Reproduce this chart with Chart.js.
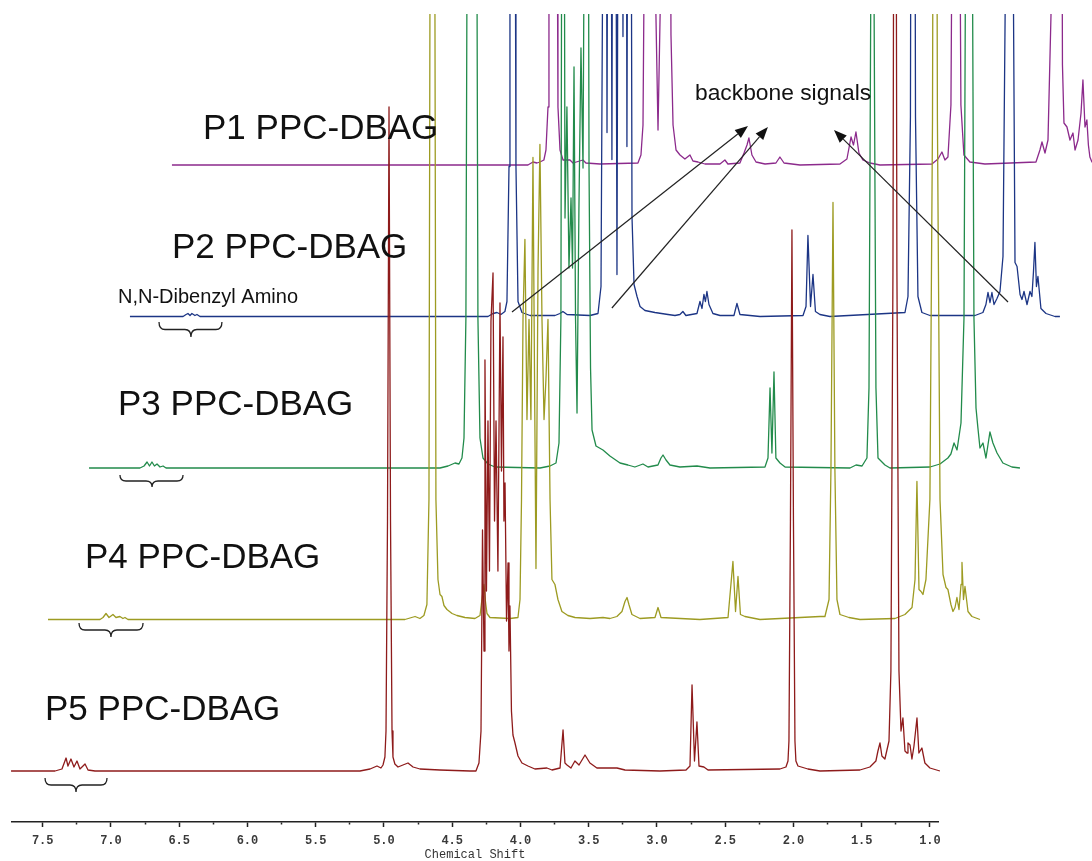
<!DOCTYPE html>
<html>
<head>
<meta charset="utf-8">
<script src="https://cdn.jsdelivr.net/npm/chart.js@4.4.1/dist/chart.umd.min.js"></script>
<style>
html,body{margin:0;padding:0;background:#ffffff;}
canvas{display:block;}
</style>
</head>
<body>
<canvas id="c" width="1092" height="861"></canvas>
<script>
// ---------------- DATA ----------------
// trace order: P5 (bottom) ... P1 (top); each point = [chemical shift (ppm), intensity]
const traceNames = ['P5 PPC-DBAG', 'P4 PPC-DBAG', 'P3 PPC-DBAG', 'P2 PPC-DBAG', 'P1 PPC-DBAG'];
const traceColors = ['#8e1b1b', '#9d9b22', '#228b4b', '#1c3585', '#8c2a8c'];

const p5 = [[7.732,0],[7.410,0],[7.359,2],[7.329,13],[7.315,5],[7.293,12],[7.271,4],[7.249,10],[7.227,2],[7.190,7],[7.168,1],[7.117,0],[5.176,0],[5.102,2],[5.051,5],[5.022,3],[5.007,6],[4.993,14],[4.985,40],[4.974,250],[4.963,664],[4.952,250],[4.941,40],[4.934,14],[4.920,7],[4.897,4],[4.861,6],[4.824,8],[4.787,4],[4.736,2],[4.590,1],[4.370,0],[4.326,0],[4.304,8],[4.289,40],[4.278,241],[4.267,120],[4.260,411],[4.249,180],[4.238,350],[4.227,200],[4.216,450],[4.201,498],[4.190,250],[4.179,350],[4.165,200],[4.150,468],[4.139,300],[4.128,434],[4.121,250],[4.113,288],[4.102,150],[4.091,208],[4.084,120],[4.077,165],[4.066,60],[4.055,36],[4.040,28],[4.018,15],[3.989,8],[3.945,5],[3.894,2],[3.806,3],[3.769,1],[3.710,3],[3.688,41],[3.674,8],[3.659,6],[3.630,3],[3.601,10],[3.571,6],[3.527,16],[3.491,8],[3.440,3],[3.293,3],[3.234,1],[2.978,0],[2.787,1],[2.758,5],[2.743,86],[2.725,10],[2.707,49],[2.692,5],[2.656,4],[2.626,1],[2.099,2],[2.055,4],[2.040,10],[2.033,30],[2.022,250],[2.011,541],[2.000,250],[1.989,30],[1.982,10],[1.967,5],[1.894,2],[1.806,0],[1.513,1],[1.440,4],[1.396,10],[1.381,20],[1.366,28],[1.352,15],[1.330,12],[1.300,30],[1.286,100],[1.271,500],[1.256,1500],[1.242,500],[1.227,100],[1.212,40],[1.198,53],[1.183,20],[1.168,18],[1.161,28],[1.146,26],[1.132,12],[1.117,25],[1.095,53],[1.081,18],[1.059,23],[1.037,8],[1.000,3],[0.927,0]];

const p4 = [[7.758,0],[7.377,0],[7.355,2],[7.333,6],[7.311,2],[7.282,5],[7.260,2],[7.231,3],[7.209,1],[7.194,2],[7.172,0],[5.143,0],[5.069,3],[5.033,1],[5.004,4],[4.982,15],[4.967,120],[4.960,600],[4.941,1500],[4.923,600],[4.916,120],[4.901,40],[4.886,25],[4.872,23],[4.857,14],[4.835,10],[4.798,6],[4.762,4],[4.703,2],[4.630,1],[4.593,4],[4.579,20],[4.564,35],[4.553,18],[4.542,6],[4.520,2],[4.373,1],[4.315,2],[4.300,20],[4.289,120],[4.278,300],[4.264,380],[4.249,200],[4.234,300],[4.220,200],[4.205,462],[4.194,250],[4.183,51],[4.168,350],[4.154,475],[4.139,300],[4.124,200],[4.110,240],[4.095,300],[4.080,120],[4.066,40],[4.044,35],[4.022,20],[3.993,8],[3.949,4],[3.897,2],[3.787,1],[3.692,2],[3.641,1],[3.590,3],[3.553,8],[3.531,18],[3.516,22],[3.502,15],[3.480,5],[3.421,1],[3.311,2],[3.289,12],[3.267,2],[2.982,0],[2.776,2],[2.740,58],[2.721,8],[2.703,43],[2.685,5],[2.652,3],[2.542,0],[2.102,3],[2.066,3],[2.036,20],[2.022,150],[2.007,417],[1.993,150],[1.978,20],[1.956,5],[1.890,2],[1.809,0],[1.553,1],[1.480,5],[1.428,12],[1.406,40],[1.392,138],[1.377,30],[1.362,28],[1.348,25],[1.326,40],[1.297,120],[1.278,500],[1.260,1500],[1.242,500],[1.223,120],[1.201,45],[1.179,32],[1.165,30],[1.143,15],[1.128,8],[1.113,12],[1.099,22],[1.084,10],[1.069,35],[1.062,57],[1.051,20],[1.040,33],[1.018,8],[0.989,3],[0.930,0]];

const p3 = [[7.754,0],[7.381,0],[7.351,2],[7.329,6],[7.311,2],[7.293,6],[7.275,2],[7.256,4],[7.234,1],[7.212,2],[7.190,0],[5.183,0],[5.124,2],[5.073,5],[5.044,4],[5.022,10],[5.007,30],[4.993,150],[4.985,500],[4.949,1500],[4.912,500],[4.905,150],[4.890,30],[4.868,10],[4.831,4],[4.780,1],[4.450,0],[4.377,2],[4.333,5],[4.311,25],[4.297,150],[4.282,1200],[4.267,250],[4.253,361],[4.238,200],[4.223,270],[4.212,200],[4.201,401],[4.190,150],[4.179,55],[4.165,260],[4.150,420],[4.135,300],[4.121,700],[4.106,1200],[4.091,300],[4.080,100],[4.069,38],[4.040,22],[3.989,18],[3.938,12],[3.864,5],[3.806,3],[3.755,1],[3.696,4],[3.659,1],[3.623,2],[3.586,3],[3.564,10],[3.549,13],[3.527,8],[3.498,3],[3.425,1],[3.300,2],[3.205,0],[2.802,1],[2.780,10],[2.765,80],[2.751,15],[2.736,96],[2.722,10],[2.692,5],[2.655,1],[2.179,0],[2.135,3],[2.091,2],[2.055,10],[2.040,80],[2.026,500],[2.015,1500],[2.004,500],[1.989,80],[1.974,10],[1.923,3],[1.886,0],[1.593,1],[1.520,4],[1.462,10],[1.440,14],[1.417,25],[1.395,18],[1.366,45],[1.344,150],[1.330,600],[1.308,1500],[1.285,600],[1.271,150],[1.256,60],[1.242,40],[1.227,20],[1.205,25],[1.183,10],[1.154,36],[1.132,25],[1.102,15],[1.059,5],[0.993,1],[0.934,0]];

const p2 = [[7.751,0],[7.362,0],[7.340,2],[7.326,3],[7.311,1],[7.297,3],[7.275,1],[7.260,2],[7.238,0],[5.128,0],[5.091,3],[5.062,4],[5.033,2],[5.004,5],[4.989,15],[4.974,150],[4.967,500],[4.949,1500],[4.930,500],[4.923,150],[4.908,15],[4.879,4],[4.820,1],[4.637,1],[4.601,3],[4.579,5],[4.549,2],[4.381,1],[4.322,3],[4.300,30],[4.286,400],[4.271,1200],[4.256,184],[4.238,1200],[4.220,157],[4.205,1200],[4.183,42],[4.161,1200],[4.139,280],[4.124,1200],[4.110,170],[4.091,1200],[4.073,100],[4.058,32],[4.036,20],[4.014,10],[3.978,6],[3.905,4],[3.809,2],[3.758,1],[3.722,2],[3.700,5],[3.678,1],[3.597,3],[3.575,15],[3.560,8],[3.546,22],[3.535,15],[3.524,25],[3.509,12],[3.480,3],[3.428,1],[3.326,1],[3.304,13],[3.282,2],[3.135,0],[2.820,1],[2.798,10],[2.784,81],[2.765,10],[2.747,42],[2.729,5],[2.696,2],[2.623,0],[2.073,4],[2.051,20],[2.033,200],[2.015,1500],[1.996,200],[1.978,20],[1.949,4],[1.890,1],[1.560,1],[1.502,4],[1.480,12],[1.465,24],[1.450,14],[1.436,24],[1.421,12],[1.399,18],[1.377,25],[1.355,60],[1.333,400],[1.308,1500],[1.282,400],[1.267,54],[1.252,50],[1.230,22],[1.216,17],[1.201,25],[1.179,12],[1.157,25],[1.143,20],[1.132,44],[1.121,74],[1.110,30],[1.099,40],[1.077,8],[1.040,3],[0.974,0],[0.938,0]];

const p1 = [[7.740,0],[5.132,0],[5.095,3],[5.066,2],[5.044,3],[5.015,5],[5.000,15],[4.985,58],[4.978,300],[4.949,1500],[4.919,300],[4.912,58],[4.897,15],[4.875,5],[4.824,5],[4.802,2],[4.729,5],[4.707,2],[4.604,1],[4.326,2],[4.304,10],[4.289,40],[4.275,300],[4.260,1200],[4.231,1200],[4.201,200],[4.179,35],[4.157,200],[4.128,1200],[4.099,600],[4.084,130],[4.069,40],[4.047,15],[4.018,10],[3.982,6],[3.945,10],[3.923,4],[3.886,3],[3.835,1],[3.725,1],[3.689,5],[3.667,1],[3.579,2],[3.549,12],[3.527,20],[3.513,27],[3.491,10],[3.461,3],[3.395,1],[3.315,2],[3.286,8],[3.256,2],[3.139,0],[2.846,1],[2.795,6],[2.765,28],[2.747,20],[2.729,33],[2.707,12],[2.678,5],[2.626,2],[2.553,0],[2.172,1],[2.128,6],[2.099,13],[2.077,5],[2.055,8],[2.033,60],[2.018,400],[1.996,1500],[1.974,400],[1.960,60],[1.938,10],[1.894,3],[1.784,1],[1.410,3],[1.381,15],[1.366,23],[1.344,12],[1.322,25],[1.300,150],[1.286,600],[1.256,1500],[1.227,600],[1.216,100],[1.205,42],[1.183,38],[1.161,25],[1.139,32],[1.124,15],[1.102,25],[1.080,52],[1.066,85],[1.051,38],[1.037,45],[1.026,20],[1.015,8],[1.000,3],[0.941,0]];

const traces = [p5, p4, p3, p2, p1];

const tickValues = [7.5,7.25,7.0,6.75,6.5,6.25,6.0,5.75,5.5,5.25,5.0,4.75,4.5,4.25,4.0,3.75,3.5,3.25,3.0,2.75,2.5,2.25,2.0,1.75,1.5,1.25,1.0];
const majorTicks = [7.5,7.0,6.5,6.0,5.5,5.0,4.5,4.0,3.5,3.0,2.5,2.0,1.5,1.0];
const axisTitle = 'Chemical Shift';

// annotations expressed in the bottom trace's (P5) axis units: [ppm, intensity]
const arrowStarts = [[4.062,459],[3.330,463],[0.428,469]];
const arrowEnds   = [[2.333,645],[2.187,644],[1.703,641]];
// braces: [left ppm, right ppm, tip ppm, top intensity, tip intensity]
const braces = [[7.483,7.029,7.256,-7,-21],[7.234,6.765,7.000,148,134],[6.934,6.472,6.699,296,284],[6.648,6.187,6.414,449,434]];
const noteTexts = ['N,N-Dibenzyl Amino', 'backbone signals'];

// ---------------- LAYOUT / STYLE ----------------
const AXIS_MIN = 0.941, AXIS_MAX = 7.725;    // visible shift axis range
const X_SHIFT = 40.5 / 136.5;                  // horizontal stagger per trace (ppm)
const BASE0 = 771, Y_STEP = 151.5, TOP = 14, BOTTOM = 822; // pixel layout of stacked traces
const labelPos = [[45,720],[85,568],[118,415],[172,258],[203,139]];
const notePos = [[118,303,'20px'],[695,100,'22.8px']];

const scales = {};
traces.forEach((t, k) => {
  const base = BASE0 - k * Y_STEP;
  scales['y' + k] = { type: 'linear', display: false, min: -(BOTTOM - base), max: base - TOP };
  if (k > 0) scales['x' + k] = { type: 'linear', display: false, reverse: true,
      min: AXIS_MIN + k * X_SHIFT, max: AXIS_MAX + k * X_SHIFT };
});
const isMajor = v => majorTicks.some(m => Math.abs(m - v) < 1e-6);
scales.x = {
  type: 'linear', position: 'bottom', reverse: true, min: AXIS_MIN, max: AXIS_MAX,
  afterBuildTicks: s => { s.ticks = tickValues.map(v => ({ value: v })); },
  afterFit: s => { s.height = 39; },
  border: { display: true, color: '#222', width: 1.5 },
  grid: { drawOnChartArea: false, drawTicks: true, tickLength: 5, tickWidth: 1.5, tickColor: '#222',
          tickBorderDash: c => (c.tick && isMajor(c.tick.value)) ? [] : [2, 10] },
  ticks: { autoSkip: false, maxRotation: 0, minRotation: 0, padding: 7, color: '#3a3a3a',
           font: { family: '"Liberation Mono", "DejaVu Sans Mono", monospace', size: 12, weight: 'bold' },
           callback: v => isMajor(v) ? Number(v).toFixed(1) : '' },
  title: { display: true, text: axisTitle, color: '#333', padding: { top: 0, bottom: 0 },
           font: { family: '"Liberation Mono", "DejaVu Sans Mono", monospace', size: 12, lineHeight: 1 } }
};

const annotPlugin = {
  id: 'annot',
  afterDatasetsDraw(chart) {
    const ctx = chart.ctx, xs = chart.scales.x, ys = chart.scales.y0;
    ctx.save();
    // labels
    ctx.fillStyle = '#111';
    ctx.textBaseline = 'alphabetic';
    ctx.font = '35px "Liberation Sans", Arial, sans-serif';
    traceNames.forEach((n, k) => ctx.fillText(n, labelPos[k][0], labelPos[k][1]));
    noteTexts.forEach((t, i) => {
      ctx.font = notePos[i][2] + ' "Liberation Sans", Arial, sans-serif';
      ctx.fillText(t, notePos[i][0], notePos[i][1]);
    });
    // braces
    ctx.strokeStyle = '#222'; ctx.lineWidth = 1.3;
    braces.forEach(b => {
      const x0 = xs.getPixelForValue(b[0]), x1 = xs.getPixelForValue(b[1]), xm = xs.getPixelForValue(b[2]);
      const yt = ys.getPixelForValue(b[3]), yb = ys.getPixelForValue(b[4]);
      const ym = (yt + yb) / 2, r = 6;
      ctx.beginPath();
      ctx.moveTo(x0, yt);
      ctx.quadraticCurveTo(x0, ym, x0 + r, ym);
      ctx.lineTo(xm - r, ym);
      ctx.quadraticCurveTo(xm, ym, xm, yb);
      ctx.quadraticCurveTo(xm, ym, xm + r, ym);
      ctx.lineTo(x1 - r, ym);
      ctx.quadraticCurveTo(x1, ym, x1, yt);
      ctx.stroke();
    });
    // arrows
    ctx.strokeStyle = '#222'; ctx.fillStyle = '#111'; ctx.lineWidth = 1.2;
    arrowStarts.forEach((s, i) => {
      const e = arrowEnds[i];
      const sx = xs.getPixelForValue(s[0]), sy = ys.getPixelForValue(s[1]);
      const ex = xs.getPixelForValue(e[0]), ey = ys.getPixelForValue(e[1]);
      const a = Math.atan2(ey - sy, ex - sx), L = 13, W = 5;
      const bx = ex - L * Math.cos(a), by = ey - L * Math.sin(a);
      ctx.beginPath(); ctx.moveTo(sx, sy); ctx.lineTo(bx, by); ctx.stroke();
      ctx.beginPath();
      ctx.moveTo(ex, ey);
      ctx.lineTo(bx + W * Math.sin(a), by - W * Math.cos(a));
      ctx.lineTo(bx - W * Math.sin(a), by + W * Math.cos(a));
      ctx.closePath(); ctx.fill();
    });
    ctx.restore();
  }
};

new Chart(document.getElementById('c'), {
  type: 'line',
  data: {
    datasets: traces.map((t, k) => ({
      label: traceNames[k],
      data: t.map(p => ({ x: p[0], y: p[1] })),
      xAxisID: k === 0 ? 'x' : 'x' + k,
      yAxisID: 'y' + k,
      borderColor: traceColors[k],
      borderWidth: 1.3,
      borderJoinStyle: 'round',
      pointRadius: 0,
      tension: 0,
      fill: false,
      clip: { left: false, right: false, top: 0, bottom: false }
    }))
  },
  options: {
    responsive: false,
    animation: false,
    devicePixelRatio: 1,
    layout: { padding: { left: 12, right: 154, top: TOP, bottom: 0 } },
    plugins: { legend: { display: false }, tooltip: { enabled: false } },
    scales: scales
  },
  plugins: [annotPlugin]
});
</script>
</body>
</html>
